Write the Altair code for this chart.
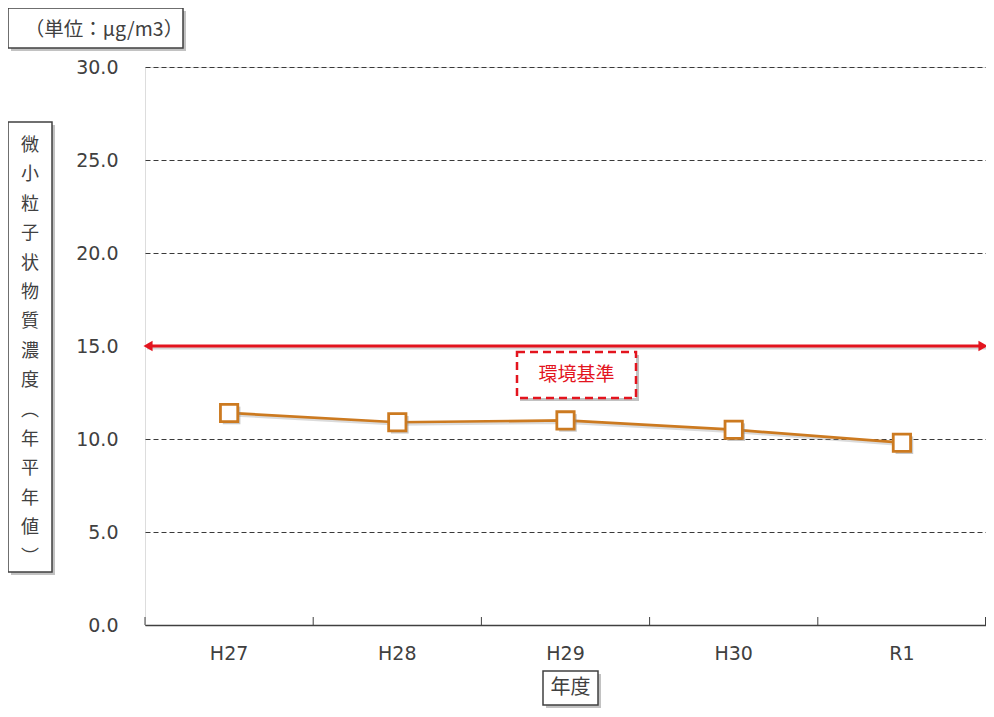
import altair as alt
import pandas as pd

# ---- data ----
years = ["H27", "H28", "H29", "H30", "R1"]
values = [11.4, 10.9, 11.0, 10.5, 9.8]
standard_value = [15.0]
y_ticks = [0, 5, 10, 15, 20, 25, 30]

unit_label = "（単位：μg/m3）"
y_title_chars = list("微小粒子状物質濃度") + ["︵"] + list("年平年値") + ["︶"]
x_title = "年度"
standard_label = "環境基準"

W, H = 841, 558
ORANGE = "#cc7a20"
RED = "#e3141e"
DARK = "#404040"
JP = "Noto Sans CJK JP"
NUM = "DejaVu Sans"

df = pd.DataFrame({"year": years, "value": values})
df_std = pd.DataFrame({"value": standard_value})
one = pd.DataFrame({"a": [0]})

xscale = alt.Scale(domain=years, paddingInner=0, paddingOuter=0)
yscale = alt.Scale(domain=[0, 30], nice=False)

x_axis = alt.Axis(title=None, labelAngle=0, ticks=False, labelPadding=19,
                  labelFont=NUM, labelFontSize=19, labelColor=DARK,
                  domainColor=DARK, domainWidth=1.5, grid=False)
y_axis = alt.Axis(title=None, values=y_ticks, format=".1f", ticks=False,
                  domain=False, labelPadding=27, labelFont=NUM,
                  labelFontSize=19, labelColor=DARK, grid=True,
                  gridDash=[5, 3], gridColor="#3a3a3a", gridWidth=1)
x_enc = alt.X("year:N", scale=xscale, sort=years, axis=x_axis)
y_enc = alt.Y("value:Q", scale=yscale, axis=y_axis)

# line shadow + line + markers
line_shadow = alt.Chart(df).mark_line(color="#999999", strokeWidth=3, opacity=0.35,
                                      xOffset=2, yOffset=2).encode(x=x_enc, y=y_enc)
line = alt.Chart(df).mark_line(color=ORANGE, strokeWidth=2.7).encode(x=x_enc, y=y_enc)
pt_shadow = alt.Chart(df).mark_point(shape="square", size=310, filled=True,
                                     color="#888888", opacity=0.45,
                                     xOffset=2.5, yOffset=2.5).encode(x=x_enc, y=y_enc)
points = alt.Chart(df).mark_point(shape="square", size=300, filled=True, fill="white",
                                  stroke=ORANGE, strokeWidth=2.8, opacity=1).encode(x=x_enc, y=y_enc)

# inward ticks at band boundaries (left edge of each band + right end)
ticks = alt.Chart(df).mark_rule(color=DARK, strokeWidth=1, xOffset=-W / 10).encode(
    x=x_enc, y=alt.value(H - 8), y2=alt.value(H))
tick_end = alt.Chart(one).mark_rule(color=DARK, strokeWidth=1).encode(
    x=alt.value(W - 0.5), y=alt.value(H - 8), y2=alt.value(H))

# environmental standard arrow
std_shadow = alt.Chart(df_std).mark_rule(color="#aaaaaa", strokeWidth=3, opacity=0.5,
                                         yOffset=2).encode(
    y=y_enc, x=alt.value(2), x2=alt.value(W))
std_line = alt.Chart(df_std).mark_rule(color=RED, strokeWidth=3).encode(
    y=y_enc, x=alt.value(2), x2=alt.value(W - 2))
arrow_l = alt.Chart(df_std).mark_point(shape="triangle-left", filled=True, color=RED,
                                       size=110, opacity=1).encode(
    y=y_enc, x=alt.value(3))
arrow_r = alt.Chart(df_std).mark_point(shape="triangle-right", filled=True, color=RED,
                                       size=110, opacity=1).encode(
    y=y_enc, x=alt.value(W - 3))

def box(x1, x2, y1, y2, stroke, dash=None, sw=1.5, shadow=True):
    layers = []
    if shadow:
        layers.append(alt.Chart(one).mark_rect(color="#9a9a9a", opacity=0.6).encode(
            x=alt.value(x1 + 3), x2=alt.value(x2 + 3), y=alt.value(y1 + 3), y2=alt.value(y2 + 3)))
    kw = dict(fill="white", stroke=stroke, strokeWidth=sw)
    if dash:
        kw["strokeDash"] = dash
    layers.append(alt.Chart(one).mark_rect(**kw).encode(
        x=alt.value(x1), x2=alt.value(x2), y=alt.value(y1), y2=alt.value(y2)))
    return layers

# standard label box
std_box = box(372, 491, 285, 331, RED, dash=[8, 5], sw=2.5)
std_text = alt.Chart(one).mark_text(text=standard_label, font=JP, fontSize=19, color=RED,
                                    align="center", baseline="middle").encode(
    x=alt.value(431.5), y=alt.value(308))

# unit box
unit_box = box(-137, 38, -59, -19, DARK)
unit_text = alt.Chart(one).mark_text(text=unit_label, font=JP, fontSize=19.5, color=DARK,
                                     align="center", baseline="middle").encode(
    x=alt.value(-41), y=alt.value(-37))

# y title box
ytitle_box = box(-137, -93, 55, 505, DARK)
ytitle_text = alt.Chart(one).mark_text(text=y_title_chars, font=JP, fontSize=18, color=DARK,
                                       align="center", baseline="top",
                                       lineHeight=29.4).encode(
    x=alt.value(-115), y=alt.value(70))

# x title box
xtitle_box = box(398, 453, 604, 638, DARK)
xtitle_text = alt.Chart(one).mark_text(text=x_title, font=JP, fontSize=20, color=DARK,
                                       align="center", baseline="middle").encode(
    x=alt.value(425.5), y=alt.value(621))

chart = alt.layer(
    *ytitle_box, ytitle_text, *unit_box, unit_text,
    ticks, tick_end,
    std_shadow, std_line, arrow_l, arrow_r,
    *std_box, std_text,
    line_shadow, line, pt_shadow, points,
    *xtitle_box, xtitle_text,
).properties(
    width=W, height=H,
    autosize=alt.AutoSizeParams(type="none"),
    padding={"left": 137, "top": 59, "right": 0, "bottom": 83},
).configure_view(stroke="transparent", fill="white").configure_axisY(domain=False).configure_axisX(grid=False).configure(background="white")

chart.save("out.html", embed_options={"renderer": "svg", "actions": False})
